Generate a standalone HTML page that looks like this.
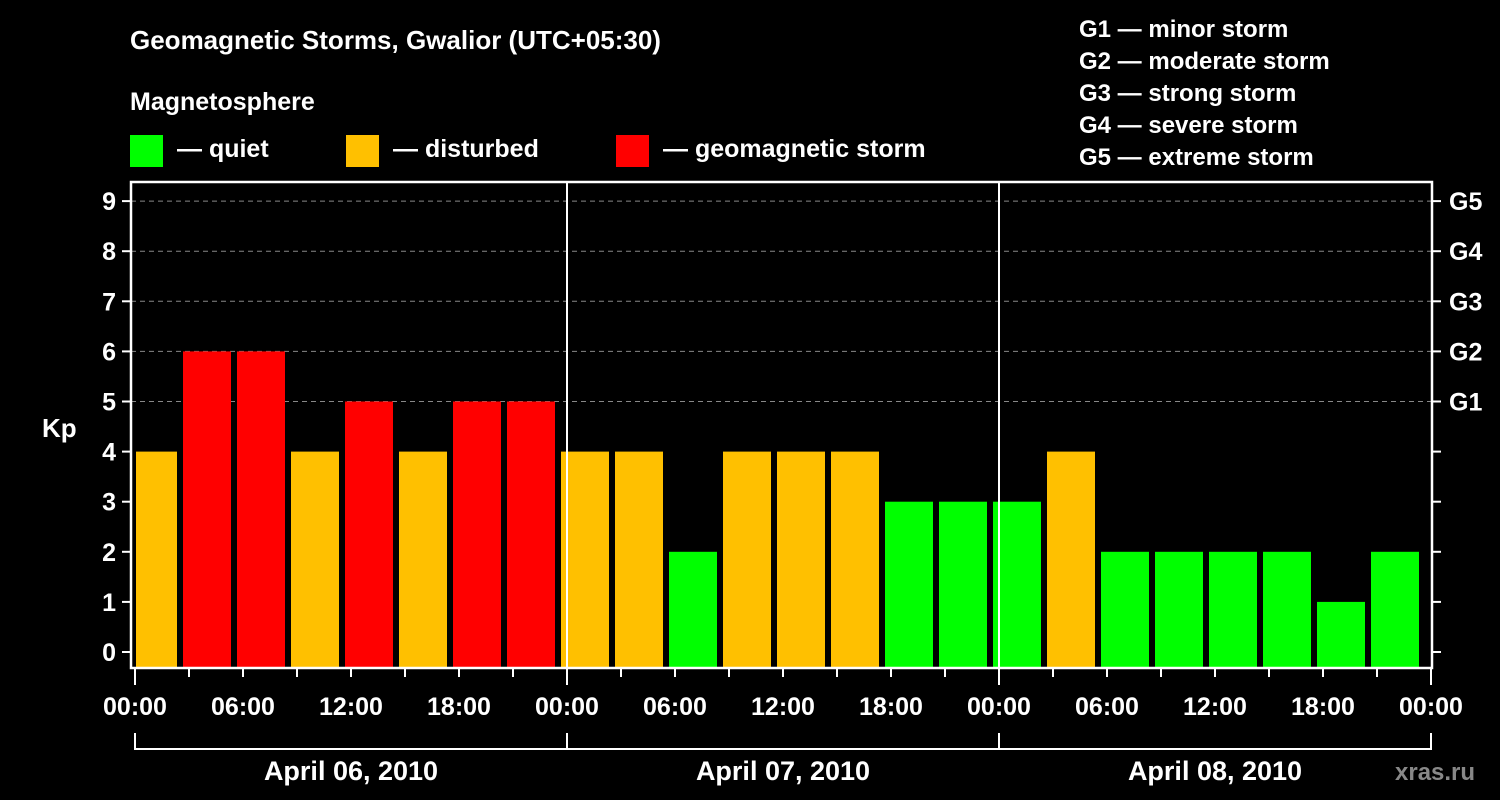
<!DOCTYPE html>
<html><head><meta charset="utf-8"><style>
html,body{margin:0;padding:0;background:#000;width:1500px;height:800px;overflow:hidden}
svg text{font-family:"Liberation Sans",sans-serif;font-weight:bold;fill:#fff}
</style></head><body>
<svg id="chart" width="1500" height="800" xmlns="http://www.w3.org/2000/svg">
<text x="130" y="49" font-size="26">Geomagnetic Storms, Gwalior (UTC+05:30)</text>
<text x="130" y="110" font-size="25">Magnetosphere</text>
<g>
<rect x="130" y="135" width="33" height="32" fill="#00ff00"/>
<text x="177" y="157" font-size="25">— quiet</text>
<rect x="346" y="135" width="33" height="32" fill="#ffc000"/>
<text x="393" y="157" font-size="25">— disturbed</text>
<rect x="616" y="135" width="33" height="32" fill="#ff0000"/>
<text x="663" y="157" font-size="25">— geomagnetic storm</text>
</g>
<g font-size="24">
<text x="1079" y="37">G1 — minor storm</text>
<text x="1079" y="69">G2 — moderate storm</text>
<text x="1079" y="101">G3 — strong storm</text>
<text x="1079" y="133">G4 — severe storm</text>
<text x="1079" y="165">G5 — extreme storm</text>
</g>
<text x="42" y="437" font-size="26">Kp</text>
<g id="grid"></g><g id="bars"></g><g id="axes"></g>
<text x="1395" y="780" font-size="24" style="fill:#888">xras.ru</text>
</svg>
<script>
const kpValues=[4,4,6,6,4,5,4,5,5,4,4,2,4,4,4,3,3,3,4,2,2,2,2,1,2];
const yTicks=[0,1,2,3,4,5,6,7,8,9];
const gLabels=["G1","G2","G3","G4","G5"];
const hourLabels=["00:00","06:00","12:00","18:00"];
const dayLabels=["April 06, 2010","April 07, 2010","April 08, 2010"];
const NS="http://www.w3.org/2000/svg";
const L=131,R=1432,T=182,B=668,X0=135,DAY=432;
function xH(h){return X0+h*DAY/24;}
function yK(v){return 652-v*50.1;}
function mk(t,a,p){const e=document.createElementNS(NS,t);for(const k in a)e.setAttribute(k,a[k]);p.appendChild(e);return e;}
const grid=document.getElementById('grid'),bars=document.getElementById('bars'),axes=document.getElementById('axes');
yTicks.forEach(v=>{if(v>=5){const l=mk('line',{x1:L,x2:R,y1:yK(v),y2:yK(v),stroke:'#888','stroke-dasharray':'5,4','stroke-width':1},grid);

}});
// bars: 3-hour UTC slots shifted by +5:30 local
kpValues.forEach((v,i)=>{
 let s=xH(-0.5+3*(i-1))+3, e=s+48;
 s=Math.max(s,L+5); e=Math.min(e,R-3);
 const c=v>=5?'#ff0000':(v>=4?'#ffc000':'#00ff00');
 const r=mk('rect',{x:s,y:yK(v),width:e-s,height:B-1-yK(v),fill:c},bars);
 
 
});
[1,2].forEach(d=>{const l=mk('line',{x1:xH(24*d),x2:xH(24*d),y1:T,y2:B,stroke:'#fff','stroke-width':2},axes);

});
const box=mk('rect',{x:L,y:T,width:R-L,height:B-T,fill:'none',stroke:'#fff','stroke-width':2.5},axes);


yTicks.forEach(v=>{const y=yK(v);
 mk('line',{x1:122,x2:L,y1:y,y2:y,stroke:'#fff','stroke-width':2},axes);
 mk('line',{x1:R,x2:1441,y1:y,y2:y,stroke:'#fff','stroke-width':2},axes);
 const t=mk('text',{x:116,y:y+9,'font-size':25,'text-anchor':'end'},axes);t.textContent=v;
 
 
 if(v>=5){const g=mk('text',{x:1449,y:y+9,'font-size':25},axes);g.textContent=gLabels[v-5];
 
 }
});
for(let h=0;h<=72;h+=3){const x=xH(h);const maj=h%24===0;
 mk('line',{x1:x,x2:x,y1:B,y2:maj?685:677,stroke:'#fff','stroke-width':2},axes);
 if(h%6===0){const t=mk('text',{x:x,y:715,'font-size':25,'text-anchor':'middle'},axes);t.textContent=hourLabels[(h%24)/6];
 
 }
}
mk('line',{x1:X0,x2:xH(72),y1:749,y2:749,stroke:'#fff','stroke-width':2},axes);
for(let d=0;d<=3;d++)mk('line',{x1:xH(24*d),x2:xH(24*d),y1:733,y2:750,stroke:'#fff','stroke-width':2},axes);
dayLabels.forEach((s,d)=>{const t=mk('text',{x:xH(24*d+12),y:780,'font-size':27,'text-anchor':'middle'},axes);t.textContent=s;
 
 });
</script>
</body></html>
